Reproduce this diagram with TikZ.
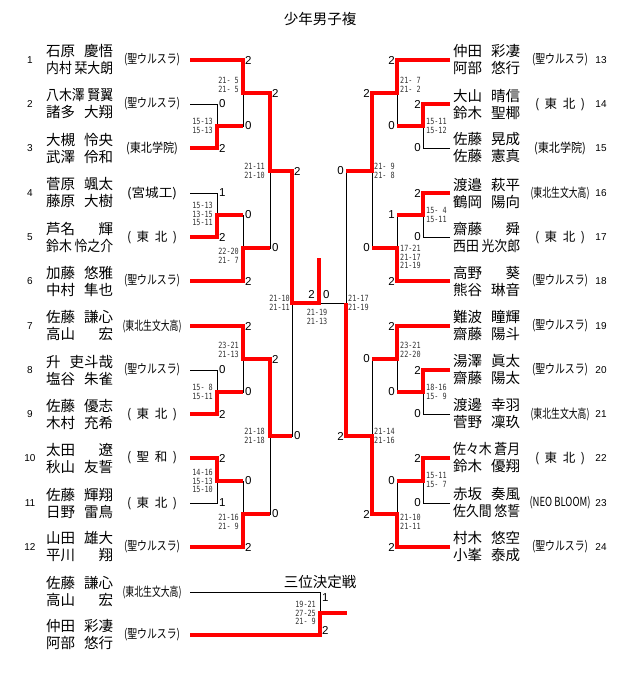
\documentclass[tikz,border=0pt]{standalone}
\usepackage{fontspec}
\usepackage{graphicx}
\newfontfamily\jp{Noto Sans CJK JP}
\newfontfamily\latinf{Liberation Sans}
\newfontfamily\gmono[FakeStretch=0.8]{DejaVu Sans Mono}
\newsavebox{\namebox}
\newcommand{\pname}[2]{\sbox{\namebox}{#1#2}%
	\ifdim\wd\namebox>60pt\resizebox{67pt}{\height}{#1\hspace{3pt}#2}%
	\else\hbox to 67pt{#1\hfil#2}\fi}
\newcommand{\team}[2][56]{\resizebox{#1pt}{\height}{#2}}
\newcommand{\steam}[2]{\hbox to 50pt{(\hfil#1\hfil#2\hfil)}}
\tikzset{%
	ttl/.style   = {inner sep=0pt, font=\jp\fontsize{14.5}{17}\selectfont},
	who/.style   = {anchor=west, inner sep=0pt, align=left, font=\jp\fontsize{14.5}{17}\selectfont},
	club/.style  = {inner sep=0pt, font=\jp\fontsize{12.5}{14}\selectfont},
	idx/.style   = {inner sep=0pt, font=\latinf\fontsize{10}{12}\selectfont},
	pts/.style   = {inner sep=0pt, font=\latinf\fontsize{11.5}{13}\selectfont},
	ptl/.style   = {pts, anchor=west, xshift=2pt},
	ptr/.style   = {pts, anchor=east, xshift=-2pt},
	gm/.style    = {inner sep=0pt, text=black!80, font=\gmono\fontsize{8.5}{8.6}\selectfont},
	gml/.style   = {gm, anchor=east, align=right},
	gmr/.style   = {gm, anchor=west, align=left},
	bline/.style = {line width=0.8pt},
	rline/.style = {line width=3.6pt, red},
}
\begin{document}
\begin{tikzpicture}[x=1pt,y=-1pt]
	\path[fill=white] (0,0) rectangle (640,697);
	\node[ttl] (title) at (320,19) {少年男子複};
	% left half
	\foreach \i/\y/\who/\club in {
		1/60/{\pname{石原}{慶悟}\\\pname{内村}{栞大朗}}/{\team{(聖ウルスラ)}},
		2/104/{\pname{八木澤}{賢翼}\\\pname{諸多}{大翔}}/{\team{(聖ウルスラ)}},
		3/148/{\pname{大槻}{怜央}\\\pname{武澤}{伶和}}/{\team[52]{(東北学院)}},
		4/193/{\pname{菅原}{颯太}\\\pname{藤原}{大樹}}/{\team[50]{(宮城工)}},
		5/237/{\pname{芦名}{輝}\\\pname{鈴木}{怜之介}}/{\steam{東}{北}},
		6/281/{\pname{加藤}{悠雅}\\\pname{中村}{隼也}}/{\team{(聖ウルスラ)}},
		7/326/{\pname{佐藤}{謙心}\\\pname{高山}{宏}}/{\team[59]{(東北生文大高)}},
		8/370/{\pname{升}{吏斗哉}\\\pname{塩谷}{朱雀}}/{\team{(聖ウルスラ)}},
		9/414/{\pname{佐藤}{優志}\\\pname{木村}{充希}}/{\steam{東}{北}},
		10/458/{\pname{太田}{遼}\\\pname{秋山}{友誓}}/{\steam{聖}{和}},
		11/503/{\pname{佐藤}{輝翔}\\\pname{日野}{雷鳥}}/{\steam{東}{北}},
		12/547/{\pname{山田}{雄大}\\\pname{平川}{翔}}/{\team{(聖ウルスラ)}}%
	}{
		\node[idx] (n\i) at (30,\y) {\i};
		\node[who] (e\i) at (46,\y) {\who};
		\node[club] (t\i) at (152,\y) {\club};
		\coordinate (p\i) at (190,\y);
	}
	% right half
	\foreach \i/\y/\who/\club in {
		13/60/{\pname{仲田}{彩凄}\\\pname{阿部}{悠行}}/{\team{(聖ウルスラ)}},
		14/104/{\pname{大山}{晴信}\\\pname{鈴木}{聖椰}}/{\steam{東}{北}},
		15/148/{\pname{佐藤}{晃成}\\\pname{佐藤}{憲真}}/{\team[52]{(東北学院)}},
		16/193/{\pname{渡邉}{萩平}\\\pname{鶴岡}{陽向}}/{\team[59]{(東北生文大高)}},
		17/237/{\pname{齋藤}{舜}\\\pname{西田}{光次郎}}/{\steam{東}{北}},
		18/281/{\pname{高野}{葵}\\\pname{熊谷}{琳音}}/{\team{(聖ウルスラ)}},
		19/326/{\pname{難波}{瞳輝}\\\pname{齋藤}{陽斗}}/{\team{(聖ウルスラ)}},
		20/370/{\pname{湯澤}{眞太}\\\pname{齋藤}{陽太}}/{\team{(聖ウルスラ)}},
		21/414/{\pname{渡邊}{幸羽}\\\pname{菅野}{凜玖}}/{\team[59]{(東北生文大高)}},
		22/458/{\pname{佐々木}{蒼月}\\\pname{鈴木}{優翔}}/{\steam{東}{北}},
		23/503/{\pname{赤坂}{奏風}\\\pname{佐久間}{悠誓}}/{\team[61]{(NEO BLOOM)}},
		24/547/{\pname{村木}{悠空}\\\pname{小峯}{泰成}}/{\team{(聖ウルスラ)}}%
	}{
		\node[idx] (n\i) at (601,\y) {\i};
		\node[who] (e\i) at (453,\y) {\who};
		\node[club] (t\i) at (560,\y) {\club};
		\coordinate (p\i) at (450,\y);
	}
	% match points
	\coordinate (mA) at (217,126); \coordinate (mB) at (243,93);
	\coordinate (mC) at (217,215); \coordinate (mD) at (243,248);
	\coordinate (mE) at (270,171);
	\coordinate (mF) at (217,392); \coordinate (mG) at (243,359);
	\coordinate (mH) at (217,481); \coordinate (mI) at (243,514);
	\coordinate (mJ) at (270,436);
	\coordinate (mK) at (292,303);
	\coordinate (nA) at (423,126); \coordinate (nB) at (397,93);
	\coordinate (nC) at (423,215); \coordinate (nD) at (397,248);
	\coordinate (nE) at (372,171);
	\coordinate (nF) at (423,392); \coordinate (nG) at (397,359);
	\coordinate (nH) at (423,481); \coordinate (nI) at (397,514);
	\coordinate (nJ) at (372,436);
	\coordinate (nK) at (346,303);
	\coordinate (fin) at (319,303); \coordinate (top) at (319,258);
	% bracket
	\foreach \m/\a/\b in {mA/p2/p3, mB/p1/mA, mC/p4/p5, mD/p6/mC, mE/mB/mD,
		mF/p8/p9, mG/p7/mF, mH/p10/p11, mI/p12/mH, mJ/mG/mI, mK/mE/mJ,
		nA/p14/p15, nB/p13/nA, nC/p16/p17, nD/p18/nC, nE/nB/nD,
		nF/p20/p21, nG/p19/nF, nH/p22/p23, nI/p24/nH, nJ/nG/nI, nK/nE/nJ}
		\draw[bline] (\a) -| (\m) (\b) -| (\m);
	\draw[bline] (mK) -- (nK);
	% winners
	\draw[rline] (p1) -| (mB) -| (mE) -| (mK) -- (fin) -- (top);
	\draw[rline] (p3) -| (mA) -- (mA -| mB);
	\draw[rline] (p5) -| (mC) -- (mC -| mD);
	\draw[rline] (p6) -| (mD) -- (mD -| mE);
	\draw[rline] (p7) -| (mG) -| (mJ) -- (mJ -| mK);
	\draw[rline] (p9) -| (mF) -- (mF -| mG);
	\draw[rline] (p10) -| (mH) -- (mH -| mI);
	\draw[rline] (p12) -| (mI) -- (mI -| mJ);
	\draw[rline] (p13) -| (nB) -| (nE) -- (nE -| nK);
	\draw[rline] (p14) -| (nA) -- (nA -| nB);
	\draw[rline] (p16) -| (nC) -- (nC -| nD);
	\draw[rline] (p18) -| (nD) -- (nD -| nE);
	\draw[rline] (p19) -| (nG) -- (nG -| nJ);
	\draw[rline] (p20) -| (nF) -- (nF -| nG);
	\draw[rline] (p22) -| (nH) -- (nH -| nI);
	\draw[rline] (p24) -| (nI) -| (nJ) -| (nK);
	% points
	\foreach \a/\m/\s in {p1/mB/2, p2/mA/0, p3/mA/2, mA/mB/0, p4/mC/1, p5/mC/2,
		mC/mD/0, p6/mD/2, mB/mE/2, mD/mE/0, mE/mK/2, mJ/mK/0, p7/mG/2, p8/mF/0,
		p9/mF/2, mF/mG/0, p10/mH/2, p11/mH/1, mH/mI/0, p12/mI/2, mG/mJ/2, mI/mJ/0}
		\node[ptl] (d\a\m) at (\a -| \m) {\s};
	\foreach \a/\m/\s in {p13/nB/2, p14/nA/2, p15/nA/0, nA/nB/0, p16/nC/2, p17/nC/0,
		nC/nD/1, p18/nD/2, nB/nE/2, nD/nE/0, nE/nK/0, nJ/nK/2, p19/nG/2, p20/nF/2,
		p21/nF/0, nF/nG/0, p22/nH/2, p23/nH/0, nH/nI/0, p24/nI/2, nG/nJ/0, nI/nJ/2}
		\node[ptr] (d\a\m) at (\a -| \m) {\s};
	\node[pts, anchor=south east] (dfl) at (315,299) {2};
	\node[pts, anchor=south west] (dfr) at (323,299) {0};
	% game scores
	\node[gml] (sA) at (213,126) {15-13\\15-13};
	\node[gml] (sB) at (239,85) {21- 5\\21- 5};
	\node[gml] (sC) at (213,214) {15-13\\13-15\\15-11};
	\node[gml] (sD) at (239,256) {22-20\\21- 7};
	\node[gml] (sE) at (265,171) {21-11\\21-10};
	\node[gml] (sF) at (213,392) {15- 8\\15-11};
	\node[gml] (sG) at (239,350) {23-21\\21-13};
	\node[gml] (sH) at (213,481) {14-16\\15-13\\15-10};
	\node[gml] (sI) at (239,522) {21-16\\21- 9};
	\node[gml] (sJ) at (265,436) {21-18\\21-18};
	\node[gml] (sK) at (290,303) {21-10\\21-11};
	\node[gm, align=center] (sL) at (317,317) {21-19\\21-13};
	\node[gmr] (tA) at (426,126) {15-11\\15-12};
	\node[gmr] (tB) at (400,85) {21- 7\\21- 2};
	\node[gmr] (tC) at (426,215) {15- 4\\15-11};
	\node[gmr] (tD) at (400,257) {17-21\\21-17\\21-19};
	\node[gmr] (tE) at (374,171) {21- 9\\21- 8};
	\node[gmr] (tF) at (426,392) {18-16\\15- 9};
	\node[gmr] (tG) at (400,350) {23-21\\22-20};
	\node[gmr] (tH) at (426,480) {15-11\\15- 7};
	\node[gmr] (tI) at (400,522) {21-10\\21-11};
	\node[gmr] (tJ) at (374,436) {21-14\\21-16};
	\node[gmr] (tK) at (348,303) {21-17\\21-19};
	% third place
	\node[ttl] (third) at (320,582) {三位決定戦};
	\node[who] (q1n) at (46,592) {\pname{佐藤}{謙心}\\\pname{高山}{宏}};
	\node[club] (q1t) at (152,592) {\team[59]{(東北生文大高)}};
	\node[who] (q2n) at (46,635) {\pname{仲田}{彩凄}\\\pname{阿部}{悠行}};
	\node[club] (q2t) at (152,635) {\team{(聖ウルスラ)}};
	\coordinate (q1) at (190,592); \coordinate (q2) at (190,635);
	\coordinate (mq) at (320,613); \coordinate (qe) at (347,613);
	\draw[bline] (q1) -| (mq) (q2) -| (mq);
	\draw[rline] (q2) -| (mq) -- (qe);
	\node[ptl] (dq1) at (320,598) {1};
	\node[ptl] (dq2) at (320,630) {2};
	\node[gml] (sQ) at (316,613) {19-21\\27-25\\21- 9};
\end{tikzpicture}
\end{document}
